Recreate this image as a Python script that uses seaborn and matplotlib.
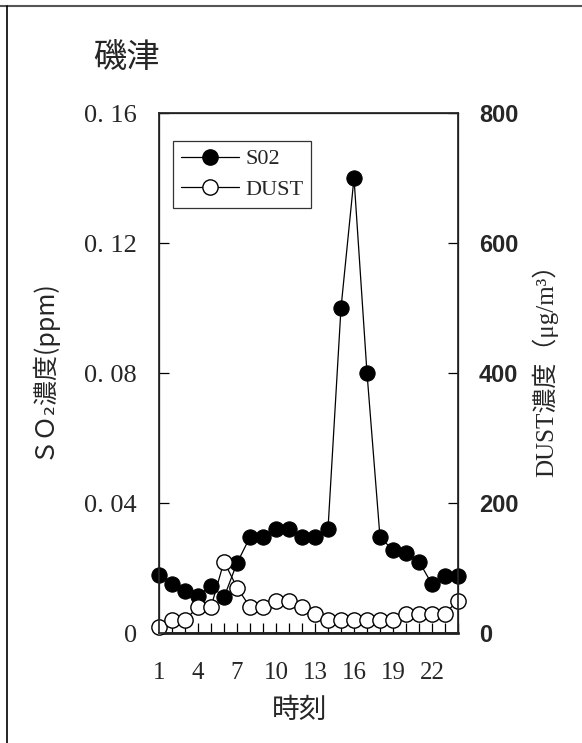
import matplotlib
matplotlib.use("Agg")
import matplotlib.pyplot as plt
import seaborn as sns
import numpy as np
from matplotlib.lines import Line2D

sns.set_theme(style="white")
SERIF = ['Liberation Serif', 'Noto Sans CJK JP', 'DejaVu Serif']
SANS_CJK = ['Noto Sans CJK JP', 'DejaVu Sans']
plt.rcParams['font.family'] = SERIF

hours = list(range(1, 25))
so2 = [0.018, 0.015, 0.013, 0.0115, 0.0145, 0.011, 0.0215, 0.0295, 0.0295, 0.032, 0.032, 0.0295,
       0.0295, 0.032, 0.100, 0.140, 0.080, 0.0295, 0.0255, 0.0245, 0.022, 0.015, 0.0175, 0.0175]
dust = [10, 20, 20, 40, 40, 110, 70, 40, 40, 50, 50, 40,
        30, 20, 20, 20, 20, 20, 20, 30, 30, 30, 30, 50]
xtick_labels = [1, 4, 7, 10, 13, 16, 19, 22]
left_ticks = [0, 0.04, 0.08, 0.12, 0.16]
left_tick_labels = ["0", "0. 04", "0. 08", "0. 12", "0. 16"]
right_ticks = [0, 200, 400, 600, 800]

W, H = 582, 743
fig = plt.figure(figsize=(W / 100, H / 100), dpi=100)
fig.patch.set_facecolor("white")
L, R, T, B = 159, 458, 113, 633
ax = fig.add_axes([L / W, 1 - B / H, (R - L) / W, (B - T) / H])
ax.set_facecolor("white")

sns.lineplot(x=hours, y=so2, ax=ax, color="black", linewidth=0.9, marker="o",
             markersize=11, markerfacecolor="black", markeredgecolor="black",
             label="S02", legend=False, clip_on=False)
ax.set_xlim(1, 24)
ax.set_ylim(0, 0.16)
ax.set_yticks(left_ticks)
ax.set_yticklabels(left_tick_labels)
ax.set_xticks(xtick_labels)
ax.set_xticklabels([str(v) for v in xtick_labels])
ax.set_xticks(hours, minor=True)
ax.tick_params(axis="x", which="both", direction="in", length=7, width=0.9,
               color="black", labelsize=18, pad=21, bottom=True, top=False)
ax.tick_params(axis="y", which="both", direction="in", length=7, width=0.9,
               color="black", labelsize=19, pad=16, left=True, right=False)
for s in ax.spines.values():
    s.set_color("black")
    s.set_linewidth(0.9)
ax.spines["bottom"].set_linewidth(1.8)

ax2 = ax.twinx()
sns.lineplot(x=hours, y=dust, ax=ax2, color="black", linewidth=0.9, marker="o",
             markersize=11, markerfacecolor="white", markeredgecolor="black",
             markeredgewidth=1.0, label="DUST", legend=False, clip_on=False)
ax2.set_ylim(0, 800)
ax2.set_yticks(right_ticks)
ax2.set_yticklabels([str(v) for v in right_ticks],
                    fontfamily="Liberation Sans", fontweight="bold")
ax2.tick_params(axis="y", direction="in", length=7, width=0.9, color="black",
                labelsize=17, pad=15, right=True, left=False)
ax2.grid(False)
ax.grid(False)

ax.set_xlabel("時刻", fontsize=20, family=SANS_CJK)
ax.xaxis.set_label_coords((300 - L) / (R - L), (B - 710) / (B - T))
ax.xaxis.label.set_va("center")
ax.set_ylabel("ＳＯ₂濃度(ppm)", fontsize=18, family=SANS_CJK)
ax.yaxis.set_label_coords((42 - L) / (R - L), (B - 369) / (B - T))
ax.yaxis.label.set_va("center")
ax2.set_ylabel("DUST濃度（μg/m³）", fontsize=18)
ax2.yaxis.set_label_coords((545 - L) / (R - L), (B - 364) / (B - T))
ax2.yaxis.label.set_va("center")

h1 = Line2D([], [], color="black", linewidth=0.9, marker="o", markersize=11,
            markerfacecolor="black", markeredgecolor="black")
h2 = Line2D([], [], color="black", linewidth=0.9, marker="o", markersize=11,
            markerfacecolor="white", markeredgecolor="black")
leg = ax2.legend([h1, h2], ["S02", "DUST"], loc="upper left",
                 bbox_to_anchor=((173 - L) / (R - L), (B - 141) / (B - T)),
                 borderaxespad=0, frameon=True, fancybox=False, fontsize=16,
                 handlelength=2.6, handletextpad=0.3, borderpad=0.35,
                 labelspacing=0.45)
leg.get_frame().set_edgecolor("black")
leg.get_frame().set_linewidth(0.9)

fig.text(93 / W, 1 - 57 / H, "磯津", fontsize=24, va="center", ha="left",
         family=SANS_CJK)

fig.add_artist(Line2D([0, 1], [1 - 6 / H, 1 - 6 / H], color="#555555", linewidth=1.5,
                      transform=fig.transFigure))
fig.add_artist(Line2D([7 / W, 7 / W], [0, 1 - 6 / H], color="black", linewidth=1.2,
                      transform=fig.transFigure))

fig.savefig("out.png", dpi=100, facecolor="white")
